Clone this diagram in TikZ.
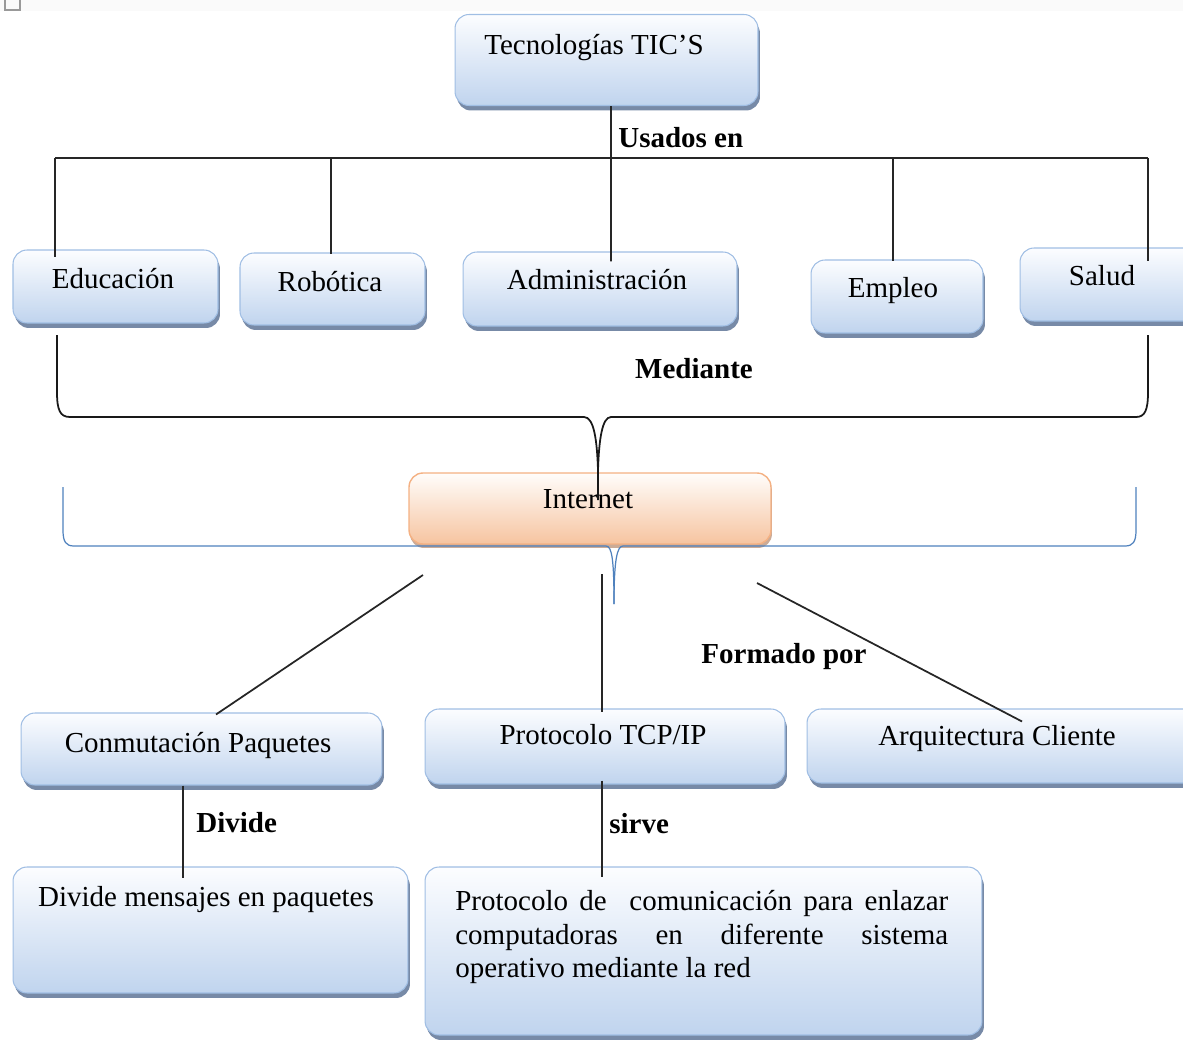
\documentclass[tikz,border=0pt]{standalone}
\usepackage{fontspec}
\setmainfont{Liberation Serif}
\usetikzlibrary{calc,shadows}
\definecolor{boxtop}{RGB}{252,253,255}
\definecolor{boxbot}{RGB}{192,212,238}
\definecolor{boxline}{RGB}{160,190,228}
\definecolor{boxshadow}{RGB}{112,132,162}
\definecolor{inttop}{RGB}{255,253,251}
\definecolor{intbot}{RGB}{246,196,160}
\definecolor{intline}{RGB}{244,177,131}
\definecolor{intshadow}{RGB}{190,150,125}
\definecolor{bracecol}{RGB}{79,129,189}
\tikzset{
  bluebox/.style={draw=boxline, line width=0.6pt, rounded corners=0.28cm,
    top color=boxtop, bottom color=boxbot,
    drop shadow={shadow xshift=0.04cm, shadow yshift=-0.1cm, fill=boxshadow, opacity=0.95},
    inner sep=0pt},
  orangebox/.style={draw=intline, line width=0.8pt, rounded corners=0.28cm,
    top color=inttop, bottom color=intbot,
    drop shadow={shadow xshift=0.02cm, shadow yshift=-0.08cm, fill=intshadow, opacity=0.8},
    inner sep=0pt},
  txt/.style={font=\fontsize{16.5}{19}\selectfont, inner sep=0pt, anchor=base},
  lbl/.style={font=\fontsize{16.5}{19}\selectfont\bfseries, inner sep=0pt, anchor=base west},
  conn/.style={draw=black!85, line width=1pt},
  blackbrace/.style={draw=black!90, line width=1pt},
  bluebrace/.style={draw=bracecol, line width=0.7pt}
}
\begin{document}
\begin{tikzpicture}[x=0.02cm,y=-0.02cm]
\useasboundingbox (0,0) rectangle (1183,1044);
\clip (0,0) rectangle (1183,1044);
\fill[black!2] (0,0) rectangle (1183,11);
\draw[black!40, line width=0.8pt] (5,0) -- (5,10) -- (20,10) -- (20,0);

% boxes
\node[bluebox, minimum width=6.06cm, minimum height=1.82cm] (tec) at (606.5,60) {};
\node[bluebox, minimum width=4.10cm, minimum height=1.46cm] (edu) at (115.5,286.5) {};
\node[bluebox, minimum width=3.70cm, minimum height=1.44cm] (rob) at (332.5,289) {};
\node[bluebox, minimum width=5.48cm, minimum height=1.48cm] (adm) at (600,289) {};
\node[bluebox, minimum width=3.44cm, minimum height=1.46cm] (emp) at (897,296.5) {};
\node[bluebox, minimum width=3.60cm, minimum height=1.46cm] (sal) at (1110,284.5) {};
\node[bluebox, minimum width=7.22cm, minimum height=1.44cm] (con) at (201.5,749) {};
\node[bluebox, minimum width=7.20cm, minimum height=1.50cm] (tcp) at (605,746.5) {};
\node[bluebox, minimum width=8.06cm, minimum height=1.48cm] (arq) at (1008.5,746) {};
\node[bluebox, minimum width=7.90cm, minimum height=2.52cm] (div) at (210.5,930) {};
\node[bluebox, minimum width=11.14cm, minimum height=3.36cm] (pro) at (703.5,951) {};
\node[orangebox, minimum width=7.24cm, minimum height=1.42cm] (int) at (590,508.5) {};

% texts
\node[txt] (ttec) at (594,55) {Tecnologías TIC’S};
\node[txt] (tedu) at (113,288) {Educación};
\node[txt] (trob) at (330,292) {Robótica};
\node[txt] (tadm) at (597,290) {Administración};
\node[txt] (temp) at (893,297) {Empleo};
\node[txt] (tsal) at (1102,285) {Salud};
\node[txt] (tint) at (588,508) {Internet};
\node[txt] (tcon) at (198,752) {Conmutación Paquetes};
\node[txt] (ttcp) at (603,744) {Protocolo TCP/IP};
\node[txt] (tarq) at (997,745) {Arquitectura Cliente};
\node[txt] (tdiv) at (206,906) {Divide mensajes en paquetes};
\node[txt, anchor=base west] (tpro1) at (455,910) {\makebox[9.86cm][s]{Protocolo de\ \ comunicación para enlazar}};
\node[txt, anchor=base west] (tpro2) at (455,944) {\makebox[9.86cm][s]{computadoras en diferente sistema}};
\node[txt, anchor=base west] (tpro3) at (455,977) {operativo mediante la red};

% labels
\node[lbl] (lusa) at (618,148) {Usados en};
\node[lbl, anchor=base] (lmed) at (694,378) {Mediante};
\node[lbl, anchor=base] (lfor) at (784,663) {Formado por};
\node[lbl] (ldiv) at (196,832) {Divide};
\node[lbl] (lsir) at (609,833) {sirve};

% top tree
\coordinate (busL) at (55,158);
\coordinate (busR) at (1148,158);
\draw[conn] (busL) -- (busR);
\draw[conn] ($(tec.south)+(4.5,0)$) -- ($(adm.north)+(11,10)$);
\draw[conn] (busL) -- ($(edu.north -| busL)+(0,8)$);
\draw[conn] ($(rob.north |- busL)+(-1.5,0)$) -- ($(rob.north)+(-1.5,2)$);
\draw[conn] ($(emp.north |- busL)+(-4,0)$) -- ($(emp.north)+(-4,2)$);
\draw[conn] (busR) -- ($(sal.north -| busR)+(0,14)$);

% black brace
\coordinate (bL) at (57,335);
\coordinate (bR) at (1148,335);
\coordinate (bT) at (598,500);
\draw[blackbrace] (bL) -- (57,392) .. controls (57,410) and (60,417) .. (70,417)
  -- (584,417) .. controls (594,417) and (597,440) .. (598,470) -- (bT);
\draw[blackbrace] (bR) -- (1148,392) .. controls (1148,410) and (1145,417) .. (1136,417)
  -- (611,417) .. controls (602,417) and (599,440) .. (598,470);

% blue brace
\coordinate (cL) at (63,487);
\coordinate (cR) at (1136,487);
\coordinate (cT) at (614,604);
\draw[bluebrace] (cL) -- (63,530) .. controls (63,542) and (66,546) .. (74,546)
  -- (606,546) .. controls (612,546) and (614,560) .. (cT);
\draw[bluebrace] (cR) -- (1136,530) .. controls (1136,542) and (1133,546) .. (1125,546)
  -- (623,546) .. controls (617,546) and (614,560) .. (cT);

% lower connectors
\coordinate (i1) at (423,575);
\coordinate (i2) at (602,574);
\coordinate (i3) at (757,583);
\draw[conn] (i1) -- ($(con.north)+(14.5,2)$);
\draw[conn] (i2) -- ($(tcp.north)+(-3,4)$);
\draw[conn] (i3) -- ($(arq.north)+(13.5,13)$);
\draw[conn] ($(con.south)+(-18.5,0)$) -- ($(div.north)+(-27.5,12)$);
\draw[conn] ($(tcp.south)+(-3,-4)$) -- ($(pro.north)+(-101.5,11)$);
\end{tikzpicture}
\end{document}
